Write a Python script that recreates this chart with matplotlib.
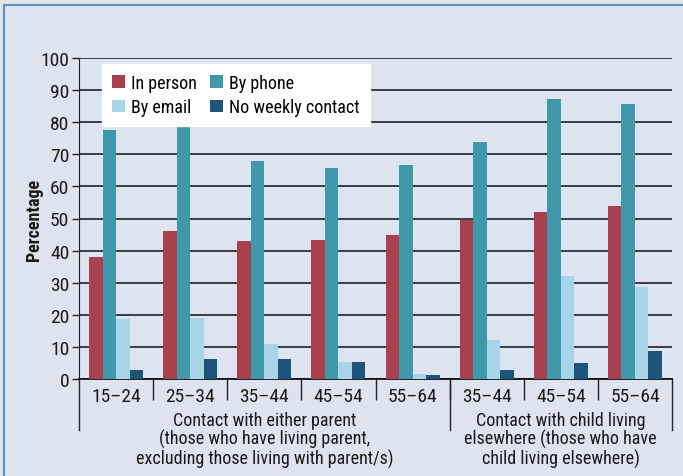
import matplotlib.pyplot as plt
import matplotlib.transforms as mtransforms
from matplotlib.patches import Rectangle
import numpy as np

plt.rcParams['font.family'] = ['Liberation Sans Narrow', 'Roboto Condensed', 'Archivo Narrow',
                               'PT Sans Narrow', 'DejaVu Sans']

# data
ages = ['15–24', '25–34', '35–44', '45–54', '55–64', '35–44', '45–54', '55–64']
in_person = [38.0, 46.1, 43.0, 43.3, 44.9, 49.5, 52.0, 53.9]
by_phone = [77.6, 79.4, 67.9, 65.7, 66.7, 73.8, 87.2, 85.7]
by_email = [18.7, 19.0, 10.9, 5.3, 1.6, 12.1, 32.1, 28.7]
no_contact = [2.8, 6.2, 6.2, 5.3, 1.2, 2.8, 5.0, 8.7]
series_names = ['In person', 'By phone', 'By email', 'No weekly contact']
colors = ['#a8404f', '#3f99ab', '#a8d4ea', '#1d5479']
group_labels = ['Contact with either parent\n(those who have living parent,\nexcluding those living with parent/s)',
                'Contact with child living\nelsewhere (those who have\nchild living elsewhere)']
group_spans = [(0, 4), (5, 7)]

fig = plt.figure(figsize=(6.83, 4.77), dpi=100)
fig.patch.set_facecolor('#e4e4e4')
panel = Rectangle((4 / 683, -0.1), 1.1, 1.1 - 6 / 477, transform=fig.transFigure,
                  facecolor='#dde3ef', edgecolor='#5a8fc8', linewidth=1.5, zorder=-10)
fig.patches.append(panel)

ax = fig.add_axes([79 / 683, 97 / 477, 593 / 683, 321 / 477])
ax.set_facecolor('none')

x = np.arange(len(ages))
w = 0.182
for i, (vals, c, name) in enumerate(zip([in_person, by_phone, by_email, no_contact], colors, series_names)):
    ax.bar(x + (i - 1.5) * w, vals, width=w, color=c, label=name, zorder=3)

ax.set_xlim(-0.5, len(ages) - 0.5)
ax.set_ylim(0, 100)
ax.set_yticks(range(0, 101, 10))
ax.yaxis.grid(True, color='#393c44', linewidth=1.4, zorder=1)
ax.set_axisbelow(True)
for s in ['top', 'right']:
    ax.spines[s].set_visible(False)
ax.spines['left'].set_color('#222222')
ax.spines['bottom'].set_color('#111111')
ax.spines['bottom'].set_linewidth(1.3)
ax.tick_params(axis='y', length=5, width=1, color='#222222', labelsize=14, pad=2, labelcolor='#1a1a1a')

ax.set_xticks(x)
ax.set_xticklabels(ages)
ax.tick_params(axis='x', which='major', length=0, labelsize=14, pad=6, labelcolor='#1a1a1a')
ax.set_xticks(np.arange(0.5, len(ages) - 1, 1), minor=True)
ax.tick_params(axis='x', which='minor', length=15, width=1, color='#222222')

trans = mtransforms.blended_transform_factory(ax.transData, ax.transAxes)
for xb in [-0.5, 4.5, 7.5]:
    ax.plot([xb, xb], [0, -51 / 321], transform=trans, color='#222222', lw=1, clip_on=False)

for lab, (a, b) in zip(group_labels, group_spans):
    ax.text((a + b) / 2, -32 / 321, lab, transform=trans, ha='center', va='top',
            fontsize=13, linespacing=1.02, color='#1a1a1a')

ax.set_ylabel('Percentage', fontsize=13, fontweight='bold', color='#1a1a1a')
ax.yaxis.set_label_coords(-36 / 593, 0.5)

h, l = ax.get_legend_handles_labels()
order = [0, 2, 1, 3]
leg = ax.legend([h[i] for i in order], [l[i] for i in order], ncol=2, loc='upper left',
                bbox_to_anchor=(23 / 593, 315 / 321), borderaxespad=0, frameon=True, fancybox=False,
                fontsize=13, handlelength=0.72, handleheight=0.72, handletextpad=0.35,
                columnspacing=0.7, labelspacing=0.35, borderpad=0.55)
leg.get_frame().set_facecolor('white')
leg.get_frame().set_edgecolor('white')
leg.get_frame().set_alpha(1)

fig.savefig('out.png', dpi=100, facecolor=fig.get_facecolor())
